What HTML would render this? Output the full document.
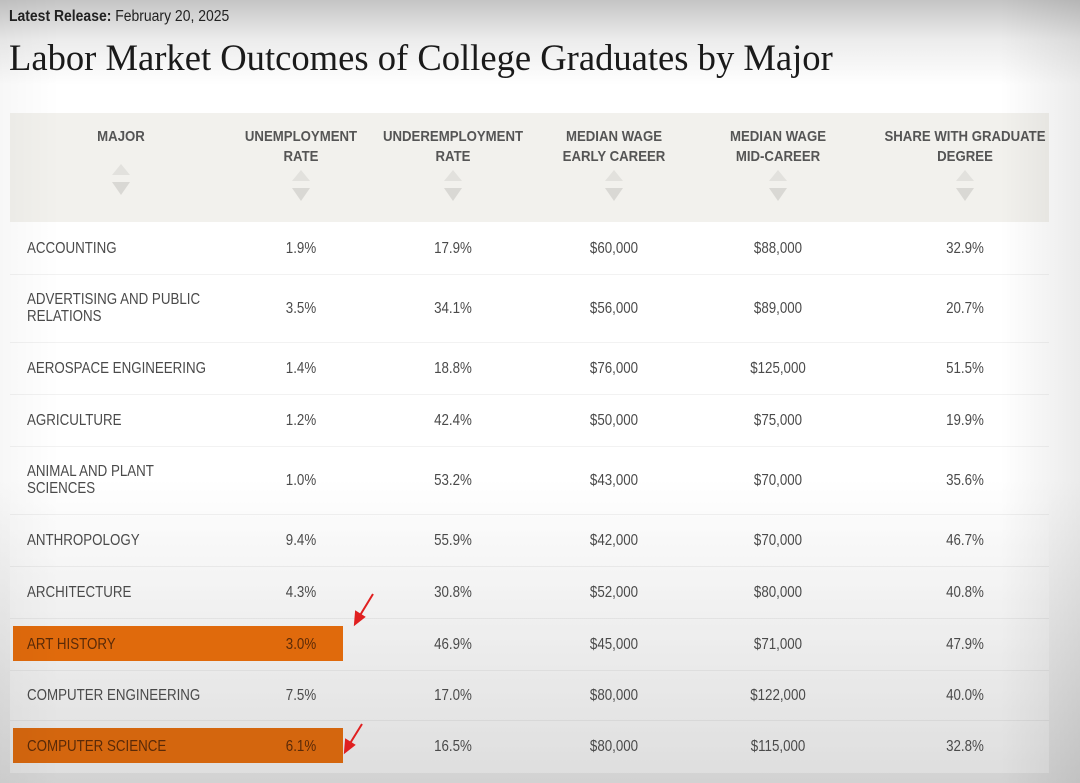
<!DOCTYPE html>
<html><head><meta charset="utf-8">
<style>
html,body{margin:0;padding:0}
body{width:1080px;height:783px;position:relative;overflow:hidden;font-family:"Liberation Sans",sans-serif;
background:linear-gradient(#c4c4c4 0px,#ececec 40px,#fff 85px,#fff 480px,#e6e6e6 650px,#d2d2d2 783px);}
.abs{position:absolute}
#vig{position:absolute;left:0;top:0;width:1080px;height:783px;background:linear-gradient(90deg,rgba(0,0,0,0.03),rgba(0,0,0,0) 60px,rgba(0,0,0,0) 1000px,rgba(0,0,0,0.08));pointer-events:none}
.hdr{position:absolute;top:127px;font-weight:bold;font-size:15px;line-height:20px;color:#555;text-align:center;transform:translateX(-50%) scaleX(0.88);white-space:nowrap}
.arr{position:absolute;width:0;height:0;border-left:9px solid transparent;border-right:9px solid transparent;transform:translateX(-50%)}
.cell{position:absolute;font-size:15.5px;color:#4a4a4a;line-height:17px;white-space:nowrap}
.sep{position:absolute;left:10px;width:1039px;height:1px;background:rgba(0,0,0,0.05)}
.hl{position:absolute;left:13px;width:330px;height:35px}
</style></head><body>
<div class="abs" style="left:9px;top:8px;font-size:15.5px;color:#222;transform:scaleX(0.9);transform-origin:0 0;white-space:nowrap"><b>Latest Release:</b> February 20, 2025</div>
<div class="abs" style="left:9px;top:36px;font-family:'Liberation Serif',serif;font-size:36.6px;color:#1a1a1a;white-space:nowrap">Labor Market Outcomes of College Graduates by Major</div>
<div class="abs" style="left:10px;top:113px;width:1039px;height:660px;background:rgba(255,255,255,0.25)"></div>
<div class="abs" style="left:10px;top:113px;width:1039px;height:109px;background:#f2f1ed"></div>
<div id="tbl"></div>
<svg class="abs" style="left:0;top:0" width="1080" height="783">
<g stroke="#e02020" stroke-width="2" fill="#e02020">
<line x1="373" y1="594" x2="359" y2="617"/><polygon points="355,624 356,612 364,617"/>
<line x1="362" y1="724" x2="349" y2="745"/><polygon points="345,752 346,740 354,745"/>
</g></svg>
<div id="vig"></div>
<script>
const headers=[["MAJOR"],["UNEMPLOYMENT","RATE"],["UNDEREMPLOYMENT","RATE"],["MEDIAN WAGE","EARLY CAREER"],["MEDIAN WAGE","MID-CAREER"],["SHARE WITH GRADUATE","DEGREE"]];
const majors=[["ACCOUNTING"],["ADVERTISING AND PUBLIC","RELATIONS"],["AEROSPACE ENGINEERING"],["AGRICULTURE"],["ANIMAL AND PLANT","SCIENCES"],["ANTHROPOLOGY"],["ARCHITECTURE"],["ART HISTORY"],["COMPUTER ENGINEERING"],["COMPUTER SCIENCE"]];
const unemployment=["1.9%","3.5%","1.4%","1.2%","1.0%","9.4%","4.3%","3.0%","7.5%","6.1%"];
const underemployment=["17.9%","34.1%","18.8%","42.4%","53.2%","55.9%","30.8%","46.9%","17.0%","16.5%"];
const wageEarly=["$60,000","$56,000","$76,000","$50,000","$43,000","$42,000","$52,000","$45,000","$80,000","$80,000"];
const wageMid=["$88,000","$89,000","$125,000","$75,000","$70,000","$70,000","$80,000","$71,000","$122,000","$115,000"];
const gradShare=["32.9%","20.7%","51.5%","19.9%","35.6%","46.7%","40.8%","47.9%","40.0%","32.8%"];
const highlighted=[7,9];
const colX=[121,301,453,614,778,965];
const rowBounds=[222,274,342,394,446,514,566,618,670,720,772];
const T=document.getElementById('tbl');
headers.forEach((h,i)=>{
  const d=document.createElement('div');d.className='hdr';d.style.left=colX[i]+'px';d.innerHTML=h.join('<br>');
  
  
  T.appendChild(d);
  const top=(h.length>1?170:164);
  const up=document.createElement('div');up.className='arr';up.style.left=colX[i]+'px';up.style.top=top+'px';up.style.borderBottom='11px solid #e2e1dd';
  
  
  T.appendChild(up);
  const dn=document.createElement('div');dn.className='arr';dn.style.left=colX[i]+'px';dn.style.top=(top+18)+'px';dn.style.borderTop='13px solid #d9d8d4';
  
  
  T.appendChild(dn);
});
majors.forEach((m,r)=>{
  const y0=rowBounds[r],y1=rowBounds[r+1],cy=(y0+y1)/2;
  if(r>0){const s=document.createElement('div');s.className='sep';s.style.top=y0+'px';
    
    
    T.appendChild(s);}
  const isH=highlighted.includes(r);
  if(isH){const h=document.createElement('div');h.className='hl';h.style.top=(cy-18)+'px';h.style.background=r===7?'#e06a0c':'#d4660e';
    
    
    T.appendChild(h);}
  const vals=[m.join('<br>'),unemployment[r],underemployment[r],wageEarly[r],wageMid[r],gradShare[r]];
  vals.forEach((v,c)=>{
    const d=document.createElement('div');d.className='cell';d.innerHTML=v;
    const lines=c===0?m.length:1;
    d.style.top=(cy-lines*17/2)+'px';
    if(c===0){d.style.left='27px';d.style.transform='scaleX(0.86)';d.style.transformOrigin='0 0';}
    else{d.style.left=colX[c]+'px';d.style.transform='translateX(-50%) scaleX(0.86)';}
    if(isH&&c<2)d.style.color='#5a2a08';
    
    
    T.appendChild(d);
  });
});
</script>
</body></html>
